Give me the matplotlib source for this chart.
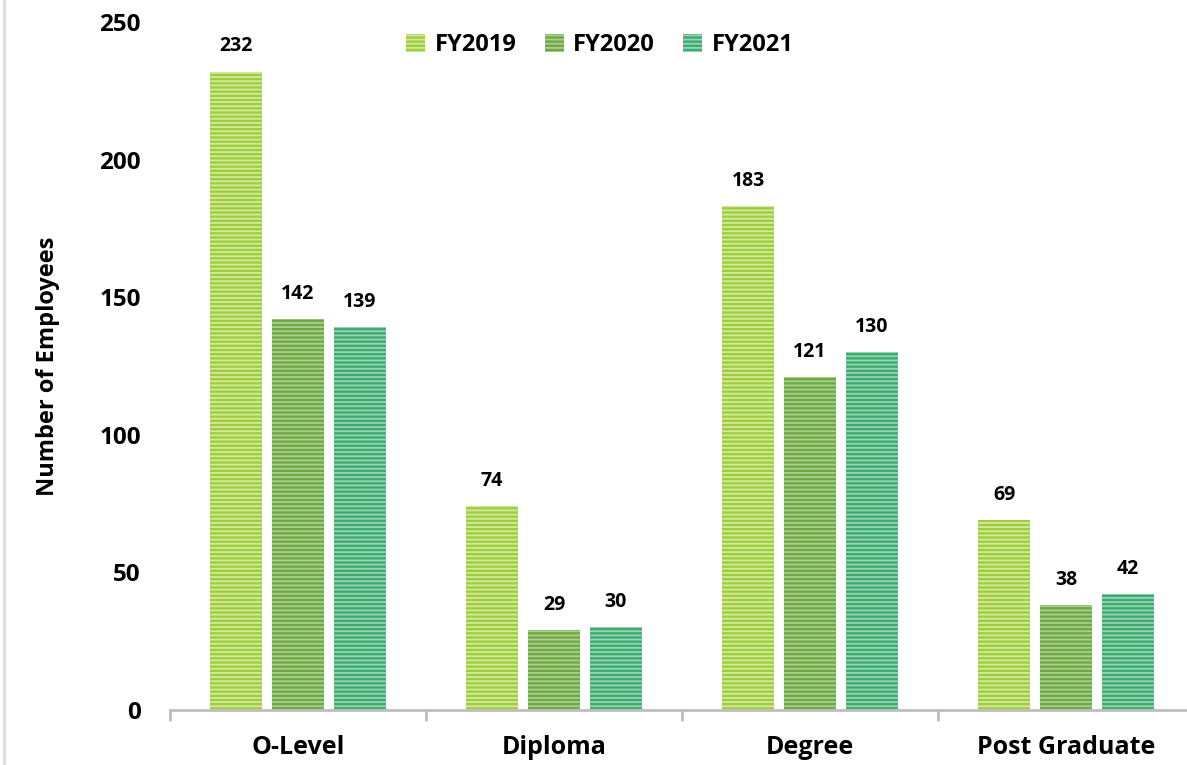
import matplotlib.pyplot as plt
import numpy as np

categories = ["O-Level", "Diploma", "Degree", "Post Graduate"]
years = ["FY2019", "FY2020", "FY2021"]
fy2019 = [232, 74, 183, 69]
fy2020 = [142, 29, 121, 38]
fy2021 = [139, 30, 130, 42]

face_colors = ["#9fcd3e", "#6fa845", "#3faa72"]
stripe_colors = ["#d3ea9c", "#a9d08c", "#96d6b3"]

plt.rcParams["font.family"] = ["Open Sans", "DejaVu Sans"]
plt.rcParams["hatch.linewidth"] = 1.3

fig = plt.figure(figsize=(11.87, 7.65), dpi=100)
ax = fig.add_axes([170 / 1187, 55 / 765, 1024 / 1187, 688 / 765])

x = np.arange(len(categories))
width = 0.2
step = 0.242
series = [fy2019, fy2020, fy2021]
for i, (name, vals) in enumerate(zip(years, series)):
    pos = x + (i - 1) * step
    ax.bar(pos, vals, width, color=face_colors[i], edgecolor=stripe_colors[i],
           linewidth=0, hatch="----", label=name)
    for xp, v in zip(pos, vals):
        ax.annotate(str(v), (xp, v), xytext=(0, 11), textcoords="offset points",
                    ha="center", va="bottom", fontsize=14, fontweight="bold", clip_on=False)

ax.set_xlim(-0.5, 3.5)
ax.set_ylim(0, 250)
ax.set_yticks([0, 50, 100, 150, 200, 250])
ax.tick_params(axis="y", length=0, pad=21, labelsize=17.5)
for lbl in ax.get_yticklabels():
    lbl.set_fontweight("bold")

ax.set_xticks(x)
ax.set_xticklabels(categories, fontsize=18, fontweight="bold")
ax.tick_params(axis="x", length=0, pad=18)
ax.set_xticks(np.arange(-0.5, 4.0, 1.0), minor=True)
ax.tick_params(axis="x", which="minor", length=8, width=2, color="#bfbfbf")

for side in ["top", "right", "left"]:
    ax.spines[side].set_visible(False)
ax.spines["bottom"].set_color("#bfbfbf")
ax.spines["bottom"].set_linewidth(2)

ax.set_ylabel("Number of Employees", fontsize=17, fontweight="bold", labelpad=28)

ax.legend(loc="upper center", bbox_to_anchor=(0.42, 1.015), ncol=3, frameon=False,
          prop={"weight": "bold", "size": 17}, handlelength=0.8, handleheight=0.8,
          columnspacing=1.2, handletextpad=0.4)

fig.add_artist(plt.Line2D([4 / 1187, 4 / 1187], [0, 1], color="#d9d9d9", linewidth=2))

fig.savefig("out.png", dpi=100)
